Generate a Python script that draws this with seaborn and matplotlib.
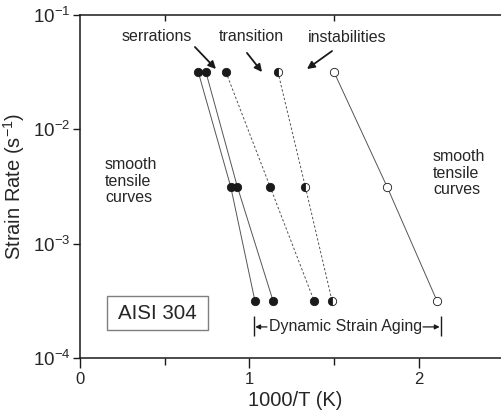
import numpy as np
import pandas as pd
import matplotlib
matplotlib.use("Agg")
import matplotlib.pyplot as plt
import seaborn as sns
from matplotlib.patches import Rectangle


# Data
strain_rate = [3.16e-2, 3.16e-3, 3.16e-4]
serr_a = [0.698, 0.889, 1.032]
serr_b = [0.743, 0.928, 1.139]
serr_c = [0.861, 1.121, 1.381]
transition = [1.168, 1.329, 1.487]
instab = [1.499, 1.811, 2.106]

series = {
    'serr_a': serr_a,
    'serr_b': serr_b,
    'serr_c': serr_c,
    'transition': transition,
    'instab': instab,
}
df = pd.concat([pd.DataFrame({'invT': v, 'rate': strain_rate, 'series': k})
                for k, v in series.items()], ignore_index=True)

styles = {
    'serr_a': dict(ls='-', mfc='k', fillstyle='full'),
    'serr_b': dict(ls='-', mfc='k', fillstyle='full'),
    'serr_c': dict(ls=(0, (2.5, 2)), mfc='k', fillstyle='full'),
    'transition': dict(ls=(0, (2.5, 2)), mfc='k', fillstyle='left'),
    'instab': dict(ls='-', mfc='white', fillstyle='full'),
}

sns.set_theme(style='ticks')
plt.rcParams['font.family'] = ['Liberation Sans', 'DejaVu Sans']
plt.rcParams['mathtext.fontset'] = 'custom'
plt.rcParams['mathtext.rm'] = 'Liberation Sans'
plt.rcParams['mathtext.it'] = 'Liberation Sans'

fig = plt.figure(figsize=(5.01, 4.15), dpi=100)
ax = fig.add_axes([80/501, 57/415, 421/501, 343/415])

for name, sub in df.groupby('series', sort=False):
    st = styles[name]
    sns.lineplot(data=sub, x='invT', y='rate', ax=ax, sort=False, estimator=None,
                 color='#555555', lw=0.7, linestyle=st['ls'])
    ax.plot(sub['invT'], sub['rate'], ls='none', marker='o', ms=6,
            mec='k', mew=0.6, mfc=st['mfc'], fillstyle=st['fillstyle'],
            markerfacecoloralt='white', zorder=5)

ax.set_yscale('log')
ax.set_xlim(0, 421/169.5)
ax.set_ylim(1e-4, 1e-1)
ax.set_xticks([0, 1, 2])
ax.set_xticks([0.5, 1.5], minor=True)
ax.yaxis.set_major_locator(matplotlib.ticker.LogLocator(base=10, numticks=10))
ax.yaxis.set_minor_locator(matplotlib.ticker.NullLocator())
ax.tick_params(axis='x', which='major', direction='out', length=7, width=1, pad=3,
               labelsize=12, color='k')
ax.tick_params(axis='x', which='minor', direction='out', length=5, width=1, color='k')
ax.tick_params(axis='y', which='major', direction='out', length=5, width=1, pad=2,
               labelsize=13.5, color='k')
for s in ['left', 'bottom', 'top']:
    ax.spines[s].set_color('k')
    ax.spines[s].set_linewidth(1.1)
ax.spines['right'].set_visible(False)

top = ax.secondary_xaxis('top')
top.set_xticks([0.5, 1.5])
top.tick_params(direction='in', length=4, width=1, labeltop=False, color='k')
top.spines['top'].set_visible(False)

ax.set_xlabel('1000/T (K)', fontsize=14.5)
ax.set_ylabel('Strain Rate (s$^{-1}$)', fontsize=14.5)
ax.xaxis.set_label_coords(0.51, -0.095)
ax.yaxis.set_label_coords(-0.125, 0.5)

# text annotations
ax.text(0.454, 0.0655, 'serrations', ha='center', va='center', fontsize=11.5)
ax.text(1.009, 0.0655, 'transition', ha='center', va='center', fontsize=11.5)
ax.text(1.575, 0.0642, 'instabilities', ha='center', va='center', fontsize=11.5)
arrow = dict(arrowstyle='-|>', color='k', lw=1.3, mutation_scale=11, shrinkA=0, shrinkB=0)
ax.annotate('', xy=(0.802, 0.0337), xytext=(0.678, 0.0525), arrowprops=arrow)
ax.annotate('', xy=(1.074, 0.0317), xytext=(0.985, 0.0466), arrowprops=arrow)
ax.annotate('', xy=(1.339, 0.0337), xytext=(1.487, 0.0484), arrowprops=arrow)

ax.text(0.147, 3.53e-3, 'smooth\ntensile\ncurves', ha='left', va='center',
        fontsize=11.5, linespacing=1.15)
ax.text(2.083, 4.15e-3, 'smooth\ntensile\ncurves', ha='left', va='center',
        fontsize=11.5, linespacing=1.15)

# sample label box
ax.add_patch(Rectangle((27/421, 28/343), 101/421, 34/343, transform=ax.transAxes,
                       fill=False, ec='#7f7f7f', lw=1))
ax.text(77.5/421, 45/343, 'AISI 304', transform=ax.transAxes,
        ha='center', va='center', fontsize=14.8)

# Dynamic Strain Aging bracket
ax.vlines([1.028, 2.128], 1.56e-4, 2.33e-4, color='k', lw=1)
ax.text(1.569, 1.87e-4, 'Dynamic Strain Aging', ha='center', va='center', fontsize=11.5)
small = dict(arrowstyle='-|>', color='k', lw=0.9, mutation_scale=7, shrinkA=0, shrinkB=0)
ax.annotate('', xy=(1.034, 1.87e-4), xytext=(1.103, 1.87e-4), arrowprops=small)
ax.annotate('', xy=(2.122, 1.87e-4), xytext=(2.024, 1.87e-4), arrowprops=small)

fig.savefig('out.png', dpi=100)
